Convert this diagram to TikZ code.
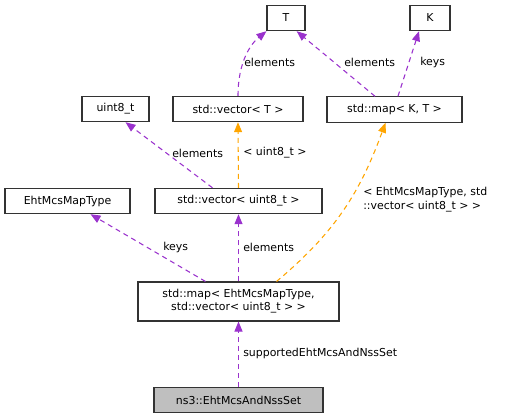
\documentclass[tikz,border=0pt]{standalone}
\usepackage{fontspec}
\setmainfont{DejaVu Sans}
\usepackage{xcolor}
\usetikzlibrary{arrows.meta}

\definecolor{edgepurple}{HTML}{9A32CD}
\definecolor{edgeorange}{HTML}{FFA500}
\definecolor{boxgray}{HTML}{BFBFBF}

\begin{document}
\begin{tikzpicture}[x=0.75pt, y=0.75pt,
  box/.style={draw=black!80, line width=0.8pt, fill=white, inner sep=0pt,
    minimum height=19pt, align=center, font=\fontsize{8.2}{9.8}\selectfont},
  member/.style={edgepurple, line width=0.8pt, dash pattern=on 3.75pt off 3pt,
    -{Triangle[length=7.5pt,width=6pt]}},
  tmpl/.style={member, edgeorange},
  lbl/.style={anchor=west, inner sep=0pt, align=left, font=\fontsize{8.2}{10.5}\selectfont}]
  % Fix the page size
  \useasboundingbox (0,0) rectangle (515,-419);

  % Draw the class boxes
  \node[box, minimum width=28.5pt] (T) at (286,-18) {T};
  \node[box, minimum width=30pt] (K) at (430,-18) {K};
  \node[box, minimum width=97.5pt] (vecT) at (238,-109) {std::vector< T >};
  \node[box, minimum width=101.25pt] (mapKT) at (394.5,-109.5) {std::map< K, T >};
  \node[box, minimum width=50.25pt] (uint) at (115.5,-109) {uint8\_t};
  \node[box, minimum width=125.25pt] (vecU) at (238.5,-201) {std::vector< uint8\_t >};
  \node[box, minimum width=93.75pt] (mcs) at (67.5,-201) {EhtMcsMapType};
  \node[box, minimum width=150.75pt, minimum height=29.25pt] (mapE) at (238.5,-301.5)
    {std::map< EhtMcsMapType,\\ std::vector< uint8\_t > >};
  \node[box, minimum width=126.75pt, fill=boxgray] (set) at (238.5,-400) {ns3::EhtMcsAndNssSet};

  % Draw the usage edges
  \draw[member] (vecT.north) .. controls +(0,35) and +(-15,-12) .. (T.south west);
  \draw[member] ([xshift=-14.6pt]mapKT.north) -- ([xshift=8pt]T.south);
  \draw[member] ([xshift=2.6pt]mapKT.north) -- ([xshift=-8.25pt]K.south);
  \draw[member] ([xshift=-19.5pt]vecU.north) -- ([xshift=7.5pt]uint.south);
  \draw[tmpl] (vecU.north) -- (vecT.south);
  \draw[member] ([xshift=-24.75pt]mapE.north) -- ([xshift=17.25pt]mcs.south);
  \draw[member] (mapE.north) -- (vecU.south);
  \draw[tmpl] ([xshift=28.5pt]mapE.north) to[out=40,in=-110] ([xshift=-6.75pt]mapKT.south);
  \draw[member] (set.north) -- (mapE.south);

  % Edge labels
  \node[lbl] (l1) at (244,-62) {elements};
  \node[lbl] (l2) at (344,-62) {elements};
  \node[lbl] (l3) at (420,-62) {keys};
  \node[lbl] (l4) at (172,-153) {elements};
  \node[lbl] (l5) at (243,-153) {< uint8\_t >};
  \node[lbl] (l6) at (163,-247) {keys};
  \node[lbl] (l7) at (243,-247) {elements};
  \node[lbl] (l8) at (363,-200) {< EhtMcsMapType, std\\::vector< uint8\_t > >};
  \node[lbl] (l9) at (243,-353) {supportedEhtMcsAndNssSet};
\end{tikzpicture}
\end{document}
